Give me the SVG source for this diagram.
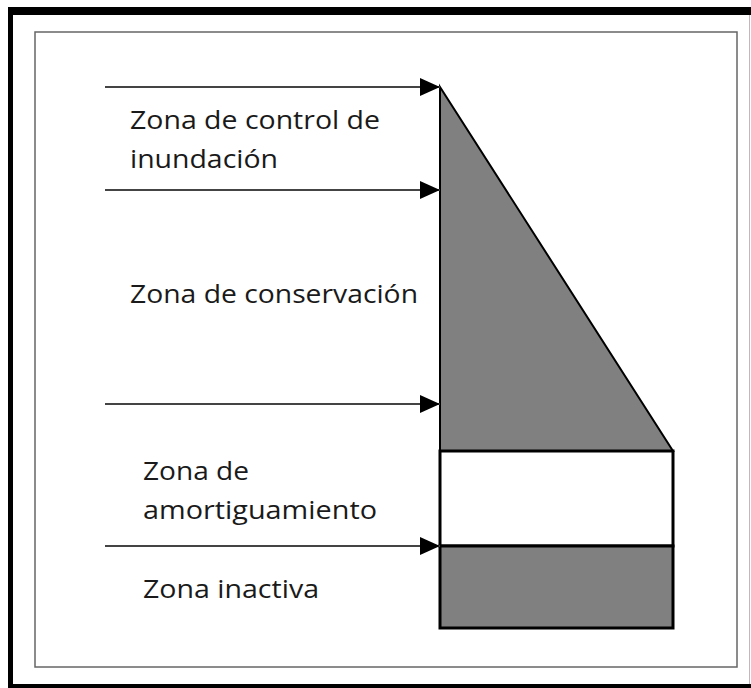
<svg xmlns="http://www.w3.org/2000/svg" width="751" height="688" viewBox="0 0 751 688">
<style>
.lbl{font-family:"Open Sans","Liberation Sans",sans-serif;font-size:26px;fill:#1a1a1a}
.conn{stroke:#444;stroke-width:2;fill:none}
.zone{stroke:#000;stroke-width:3}
</style>
<defs>
<marker id="ahb" viewBox="0 0 20 18" refX="20" refY="9" markerWidth="20" markerHeight="18" orient="auto" markerUnits="userSpaceOnUse">
<path d="M0,0 L20,9 L0,18 Z" fill="#000"/>
</marker>
</defs>
<rect x="0" y="0" width="751" height="688" fill="#fff"/>
<rect x="8" y="7" width="743" height="8" fill="#000"/>
<rect x="8" y="7" width="5" height="681" fill="#000"/>
<rect x="8" y="684" width="743" height="4" fill="#000"/>
<line x1="749.5" y1="15" x2="749.5" y2="684" stroke="#bbb" stroke-width="1"/>
<rect x="35" y="32" width="702" height="635" fill="none" stroke="#666" stroke-width="1.5"/>
<g id="zona-control">
<polygon points="440,87 673,451 440,451" fill="#808080" stroke="#000" stroke-width="2"/>
</g>
<g id="zona-amortiguamiento">
<rect x="440" y="451" width="233" height="95" fill="#fff" class="zone"/>
</g>
<g id="zona-inactiva">
<rect x="440" y="546" width="233" height="82" fill="#808080" class="zone"/>
</g>
<g id="connectors">
<line x1="105" y1="87" x2="440" y2="87" class="conn" marker-end="url(#ahb)"/>
<line x1="105" y1="190" x2="440" y2="190" class="conn" marker-end="url(#ahb)"/>
<line x1="105" y1="404" x2="440" y2="404" class="conn" marker-end="url(#ahb)"/>
<line x1="105" y1="546" x2="440" y2="546" class="conn" marker-end="url(#ahb)"/>
</g>
<g id="labels">
<text class="lbl" x="130" y="129" textLength="250" lengthAdjust="spacingAndGlyphs">Zona de control de</text>
<text class="lbl" x="130" y="168" textLength="148" lengthAdjust="spacingAndGlyphs">inundación</text>
<text class="lbl" x="130" y="303" textLength="288" lengthAdjust="spacingAndGlyphs">Zona de conservación</text>
<text class="lbl" x="143" y="480" textLength="106" lengthAdjust="spacingAndGlyphs">Zona de</text>
<text class="lbl" x="143" y="519" textLength="234" lengthAdjust="spacingAndGlyphs">amortiguamiento</text>
<text class="lbl" x="143" y="598" textLength="176" lengthAdjust="spacingAndGlyphs">Zona inactiva</text>
</g>
</svg>
